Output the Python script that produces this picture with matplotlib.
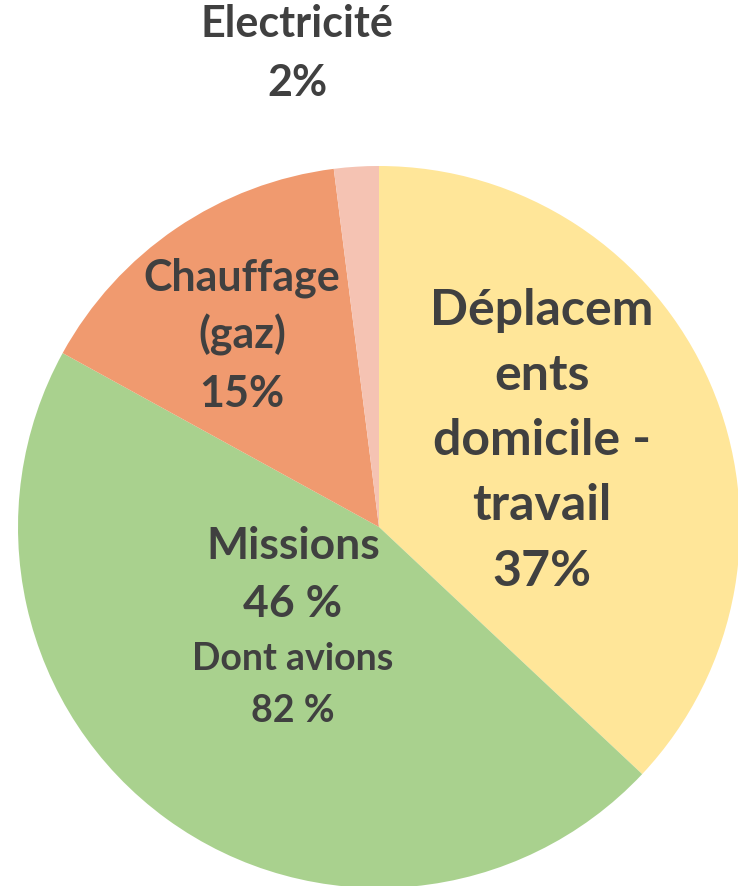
import matplotlib.pyplot as plt

# Emissions share per poste
postes = ['Déplacements domicile - travail', 'Missions', 'Chauffage (gaz)', 'Electricité']
parts = [37, 46, 15, 2]
couleurs = ['#FFE699', '#A9D18E', '#F09A6F', '#F5C3B3']

# label lines as shown on the chart
lignes_labels = [
    ['Déplacem', 'ents', 'domicile -', 'travail', '37%'],
    ['Missions', '46 %', 'Dont avions', '82 %'],
    ['Chauffage', '(gaz)', '15%'],
    ['Electricité', '2%'],
]

W, H = 738, 886
fig = plt.figure(figsize=(W / 100, H / 100), dpi=100)
ax = fig.add_axes([0, 0, 1, 1])

cx, cy, r = 379, H - 527, 361
ax.pie(parts, colors=couleurs, startangle=90, counterclock=False,
       center=(cx, cy), radius=r, frame=True,
       wedgeprops=dict(linewidth=0))
ax.set_xlim(0, W)
ax.set_ylim(0, H)
ax.set_aspect('equal')
ax.axis('off')

# label placement: x centre, baselines, font sizes per line
placement = [
    (542, [325, 390, 455, 520, 586], [36, 36, 36, 36, 36]),
    (293, [559, 617, 670, 722], [32, 32, 27, 27]),
    (242, [290, 348, 407], [31, 31, 31]),
    (297, [37, 96], [31, 31]),
]

grey = '#404040'
for lignes, (x, bases, tailles) in zip(lignes_labels, placement):
    for txt, yb, fs in zip(lignes, bases, tailles):
        ax.text(x, H - yb, txt, ha='center', va='baseline', fontsize=fs,
                fontweight='bold', color=grey, family=['Lato', 'DejaVu Sans'])

fig.savefig('out.png', dpi=100)
